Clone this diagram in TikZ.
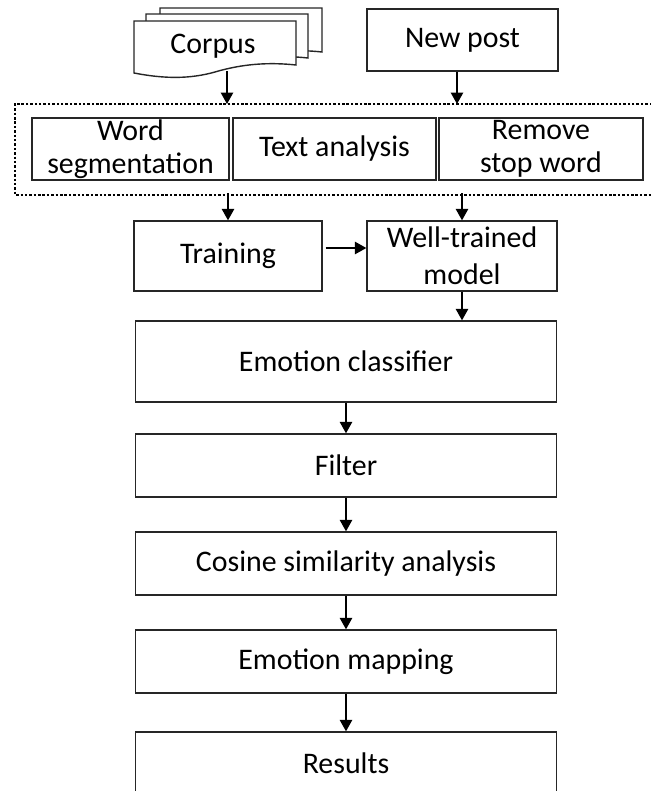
\documentclass[tikz,border=0pt]{standalone}
\usepackage{fontspec}
\setmainfont{Carlito}
\usetikzlibrary{arrows.meta,calc}
\tikzset{
  box/.style={draw=black!85,line width=0.8pt,fill=white,align=center,
    inner sep=1pt,font=\fontsize{17}{18.5}\selectfont},
  stage/.style={box,minimum width=8.42cm,minimum height=1.26cm},
  prep/.style={box,minimum height=1.24cm},
  arrow/.style={-{Triangle[length=2.3mm,width=2.5mm]},line width=0.8pt},
  frame/.style={line width=1.3pt,dash pattern=on 1.4pt off 1.1pt}
}

\begin{document}
\begin{tikzpicture}[x=0.02cm,y=-0.02cm]
\useasboundingbox (0,0) rectangle (650,791);

% stacked documents
\foreach \dx/\dy in {26/-13,12/-7,0/0}{
  \draw[
    draw=black!85,
    line width=0.8pt,
    fill=white,
    shift={(\dx,\dy)}
  ]
  (134,21) -- (296,21) -- (296,65)
  .. controls (268,62) and (242,64) .. (215,72)
  .. controls (190,79) and (165,79) .. (134,73) -- cycle;
}
\node[font=\fontsize{17}{18.5}\selectfont] (corpus) at (213,46) {Corpus};
\coordinate (corpusout) at (227,71);

\node[box,minimum width=3.82cm,minimum height=1.24cm] (newpost) at (462.5,40) {New post};

% preprocessing frame
\draw[frame] (652,104) -- (15,104) -- (15,195) -- (652,195);
\coordinate (framein1) at (227,104);
\coordinate (framein2) at (457,104);
\coordinate (frameout1) at (228,193);
\coordinate (frameout2) at (462,193);

\node[prep,minimum width=3.94cm] (wordseg) at (130.5,149) {Word\\segmentation};
\node[prep,minimum width=4.06cm] (textana) at (334.5,149) {Text analysis};
\node[prep,minimum width=4.08cm] (stopword) at (541,149) {Remove\\stop word};

\node[box,minimum width=3.76cm,minimum height=1.4cm] (training) at (228,256) {Training};
\node[
  box,
  minimum width=3.8cm,
  minimum height=1.4cm,
  font=\fontsize{17}{21}\selectfont
] (model) at (462,256) {Well-trained\\model};

\node[stage,minimum height=1.62cm] (classifier) at (346,361.5) {Emotion classifier};
\node[stage] (filter) at (346,465.5) {Filter};
\node[stage] (cosine) at (346,563.5) {Cosine similarity analysis};
\node[stage] (mapping) at (346,661.5) {Emotion mapping};
\node[stage] (results) at (346,763.5) {Results};

\draw[arrow] (corpusout) -- (framein1);
\draw[arrow] (newpost.south -| framein2) -- (framein2);
\draw[arrow] (frameout1) -- (training.north);
\draw[arrow] (frameout2) -- (model.north);
\draw[arrow] ($(training.east)+(3,-8)$) -- ($(model.west)+(0,-8)$);
\draw[arrow] (model.south) -- (model.south |- classifier.north);
\draw[arrow] (classifier.south) -- (filter.north);
\draw[arrow] (filter.south) -- (cosine.north);
\draw[arrow] (cosine.south) -- (mapping.north);
\draw[arrow] (mapping.south) -- (results.north);

\end{tikzpicture}
\end{document}
